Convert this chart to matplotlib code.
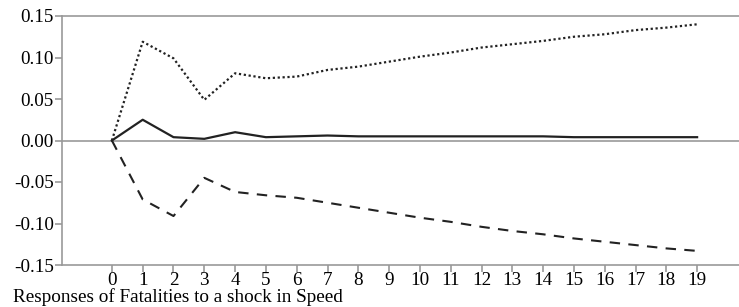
import numpy as np
import matplotlib.pyplot as plt

plt.rcParams['font.family'] = ['Liberation Serif', 'DejaVu Serif']

# Impulse response periods
periods = list(range(20))

# Response of Fatalities to a shock in Speed
response = [0.000, 0.025, 0.004, 0.002, 0.010, 0.004, 0.005, 0.006, 0.005, 0.005,
            0.005, 0.005, 0.005, 0.005, 0.005, 0.004, 0.004, 0.004, 0.004, 0.004]
# Upper band (dotted)
upper = [0.000, 0.119, 0.099, 0.049, 0.081, 0.075, 0.077, 0.085, 0.089, 0.095,
         0.101, 0.106, 0.112, 0.116, 0.120, 0.125, 0.128, 0.133, 0.136, 0.140]
# Lower band (dashed)
lower = [0.000, -0.071, -0.091, -0.045, -0.062, -0.066, -0.069, -0.075, -0.081, -0.087,
         -0.093, -0.098, -0.104, -0.109, -0.113, -0.118, -0.122, -0.126, -0.130, -0.133]

yticks = [0.15, 0.10, 0.05, 0.00, -0.05, -0.10, -0.15]
title = "Responses of Fatalities to a shock in Speed"

fig = plt.figure(figsize=(7.39, 3.07), dpi=100)
ax = fig.add_axes([62/739, 42/307, 1 - 62/739, 249/307])

ax.axhline(0, color='#999999', lw=1.2, zorder=1)
ax.plot(periods, response, color='#222222', lw=1.6, zorder=3)
ax.plot(periods, upper, color='#222222', lw=1.6, linestyle=(0, (1, 1.2)), zorder=3)
ax.plot(periods, lower, color='#222222', lw=1.5, linestyle=(0, (5, 4)), zorder=3)

ax.set_xlim(-1.62, 20.36)
ax.set_ylim(-0.15, 0.15)
ax.set_xticks(periods)
ax.set_xticklabels([str(p) for p in periods])
ax.set_yticks(yticks)
ax.set_yticklabels([f"{v:.2f}" for v in yticks])

for side in ['left', 'bottom', 'top']:
    ax.spines[side].set_color('#999999')
    ax.spines[side].set_linewidth(1.2)
ax.spines['right'].set_visible(False)
ax.tick_params(axis='both', colors='#999999', labelcolor='black', length=5,
               width=1.2, labelsize=13.8, pad=1)
ax.tick_params(axis='x', pad=0)

fig.text(13/739, 0.016, title, fontsize=13.8, va='baseline', ha='left')

fig.savefig('out.png', dpi=100)
